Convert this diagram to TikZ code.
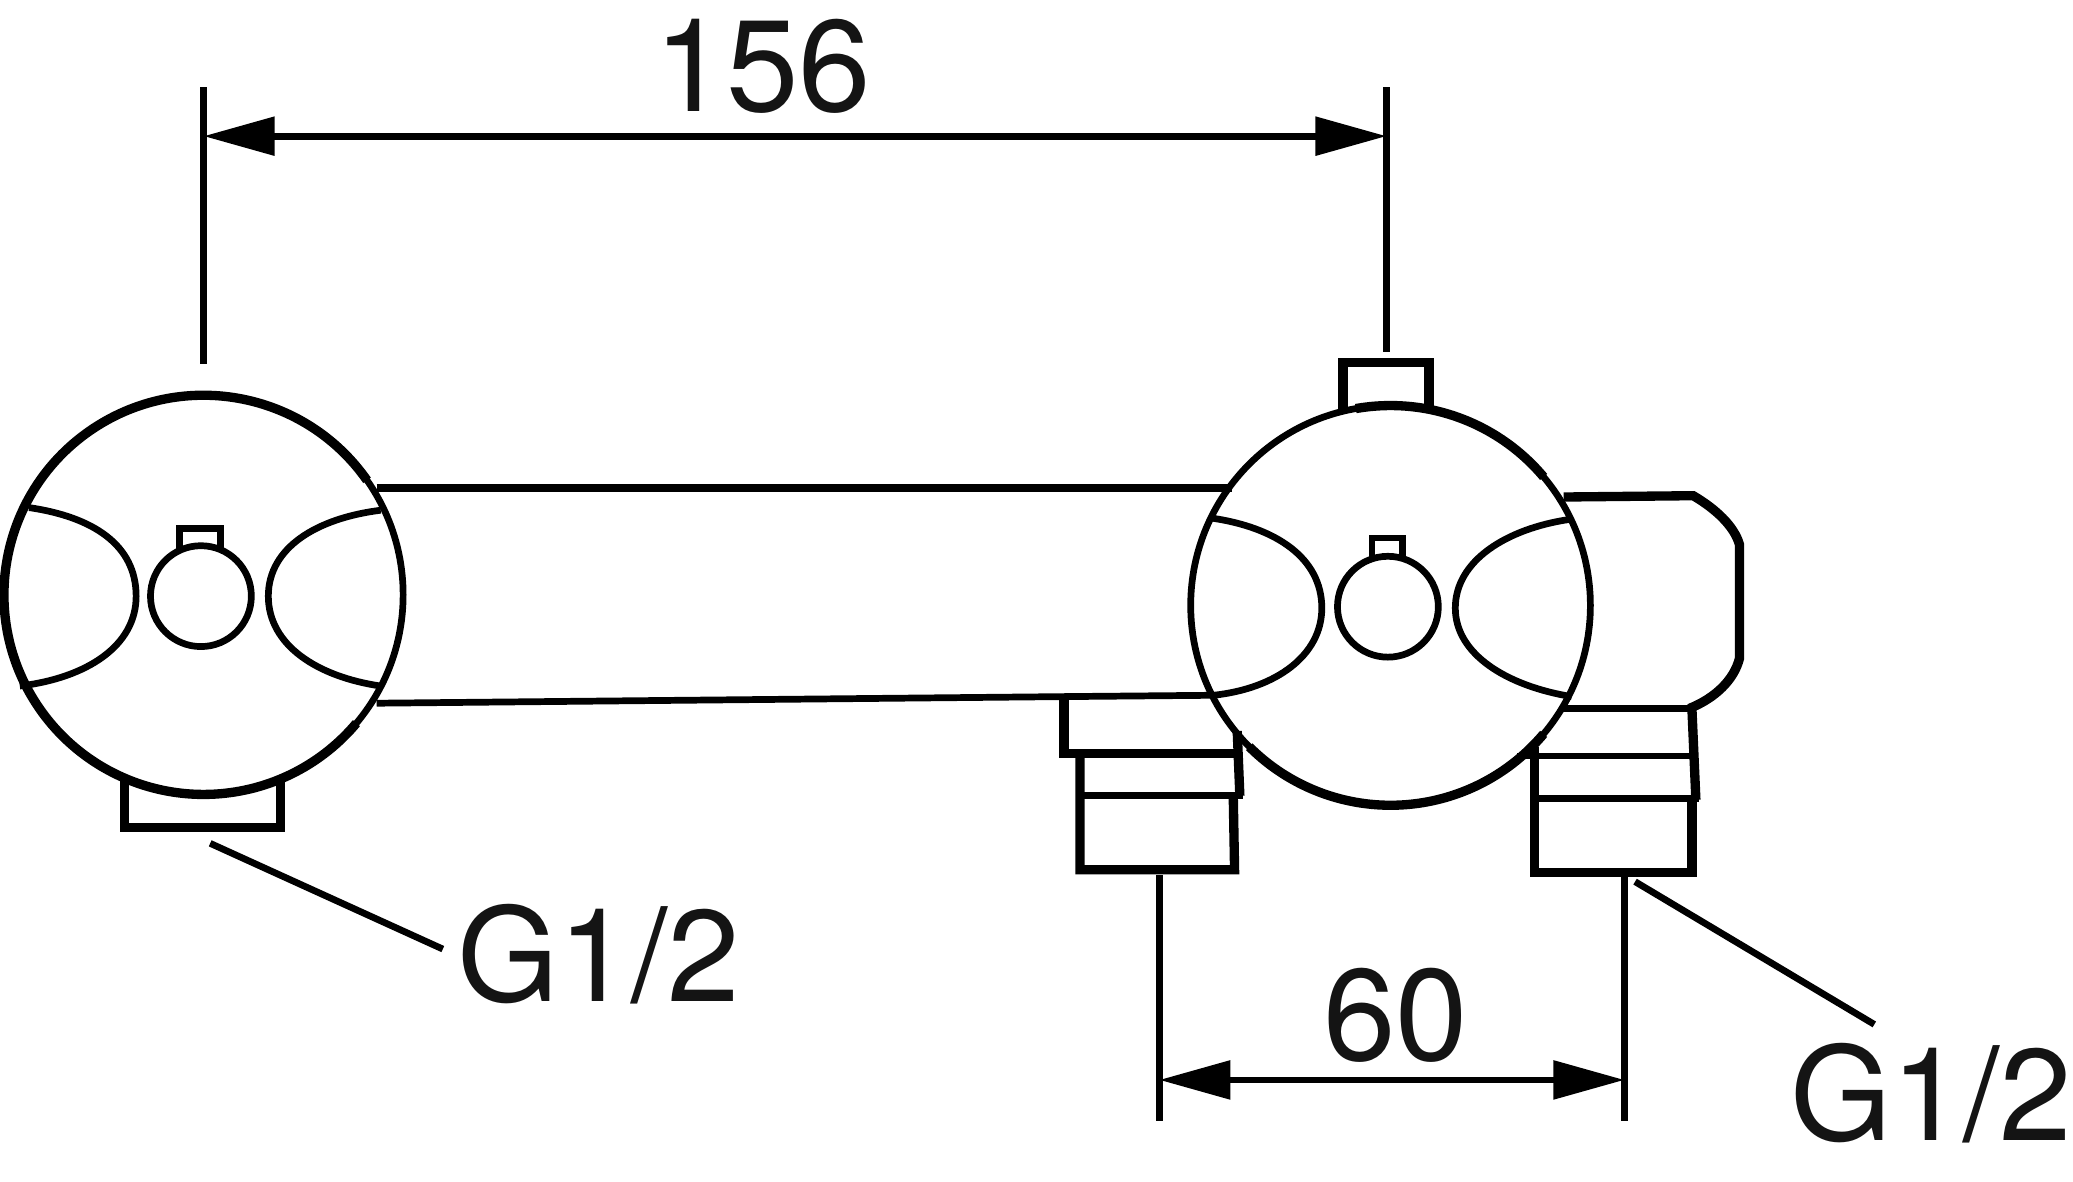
\documentclass[tikz,border=0pt]{standalone}
\usepackage{fontspec}
\setmainfont{TeX Gyre Heros}
\usetikzlibrary{arrows.meta}
\tikzset{every node/.style={align=center}, >={Triangle[length=6.7mm,width=3.55mm]},
  dimline/.style={line width=1.8pt},
  thinline/.style={line width=1.8pt},
  heavyline/.style={line width=2.5pt},
  body/.style={circle, draw, line width=1.8pt, inner sep=0pt, outer sep=0pt},
  dimtext/.style={font=\fontsize{34.9}{34.9}\selectfont, text=black!92, inner sep=0pt}}

\begin{document}
\begin{tikzpicture}[x=0.01245cm, y=-0.01245cm]
  \useasboundingbox (0,0) rectangle (1568.3,893.6);
  % valve bodies
  \node [body, minimum size=3.76cm] (bodyL) at (154,450) {};
  \node [body, minimum size=3.765cm] (bodyR) at (1052,458) {};
  \node [body, minimum size=0.95cm] (stemL) at (152,451) {};
  \node [body, minimum size=0.95cm] (stemR) at (1050,459) {};
  \draw [heavyline] (bodyL.35) arc (-35:-320:151);
  \draw [heavyline] (bodyR.40) arc (-40:-100:151.2);
  \draw [heavyline] (bodyR.225) arc (-225:-320:151.2);

  % small tabs and lobes
  \draw [thinline] (136,415) -- (136,400) -- (167,400) -- (167,415);
  \draw [thinline] (1038,422) -- (1038,407) -- (1061,407) -- (1061,422);
  \draw [thinline] (22,384) .. controls (70,391) and (103,412) .. (103,451) .. controls (103,489) and (65,513) .. (15,519);
  \draw [thinline] (288,386) .. controls (240,392) and (203,414) .. (203,451) .. controls (203,488) and (240,512) .. (288,519);
  \draw [thinline] (917,392) .. controls (965,399) and (1000,422) .. (1000,460) .. controls (1000,496) and (965,521) .. (918,526);
  \draw [thinline] (1187,393) .. controls (1140,400) and (1101,424) .. (1101,460) .. controls (1101,495) and (1140,519) .. (1189,527);

  % bar between the bodies
  \draw [line width=2.2pt] (285,369) -- (932,369);
  \draw [thinline] (285,532) -- (805,527) -- (917,526);

  % caps
  \draw [heavyline] (94,590) -- (94,626) -- (212,626) -- (212,590);
  \draw [heavyline] (1016,310) -- (1016,274) -- (1081,274) -- (1081,308);

  % left fitting
  \draw [heavyline] (805,527) -- (805,570) -- (936,570);
  \draw [heavyline] (936,553) -- (938,602);
  \draw [heavyline] (817,567) -- (817,658) -- (934,658) -- (933,602);
  \draw [thinline] (817,602) -- (940,602);

  % right housing and fitting
  \draw [heavyline] (1183,376) -- (1281,375) .. controls (1298,385) and (1312,398) .. (1316,412) -- (1316,498) .. controls (1312,514) and (1298,528) .. (1278,536);
  \draw [thinline] (1180,536) -- (1280,536);
  \draw [heavyline] (1280,536) -- (1283,605);
  \draw [thinline] (1148,572) -- (1281,572);
  \draw [heavyline] (1161,565) -- (1161,660) -- (1280,660) -- (1280,605);
  \draw [thinline] (1161,604) -- (1285,604);

  % dimensions
  \coordinate (ext1) at (154,103);
  \coordinate (ext2) at (1049,103);
  \coordinate (ext3) at (877,817);
  \coordinate (ext4) at (1229,817);
  \draw [dimline] (154,66) -- (154,275);
  \draw [dimline] (1049,66) -- (1049,266);
  \draw [dimline] (877,662) -- (877,848);
  \draw [dimline] (1229,662) -- (1229,848);
  \draw [dimline, <->] (ext1) -- (ext2);
  \draw [dimline, <->] (ext3) -- (ext4);
  \node [dimtext] (dimA) at (577,50) {156};
  \node [dimtext] (dimB) at (1056,768) {60};

  % thread labels
  \node [dimtext] (threadL) at (453,722) {G1/2};
  \node [dimtext] (threadR) at (1461,827) {G1/2};
  \coordinate (leadL) at (159,638);
  \coordinate (leadR) at (1237,667);
  \draw [dimline] (leadL) -- (335,718);
  \draw [dimline] (leadR) -- (1418,775);
\end{tikzpicture}
\end{document}
